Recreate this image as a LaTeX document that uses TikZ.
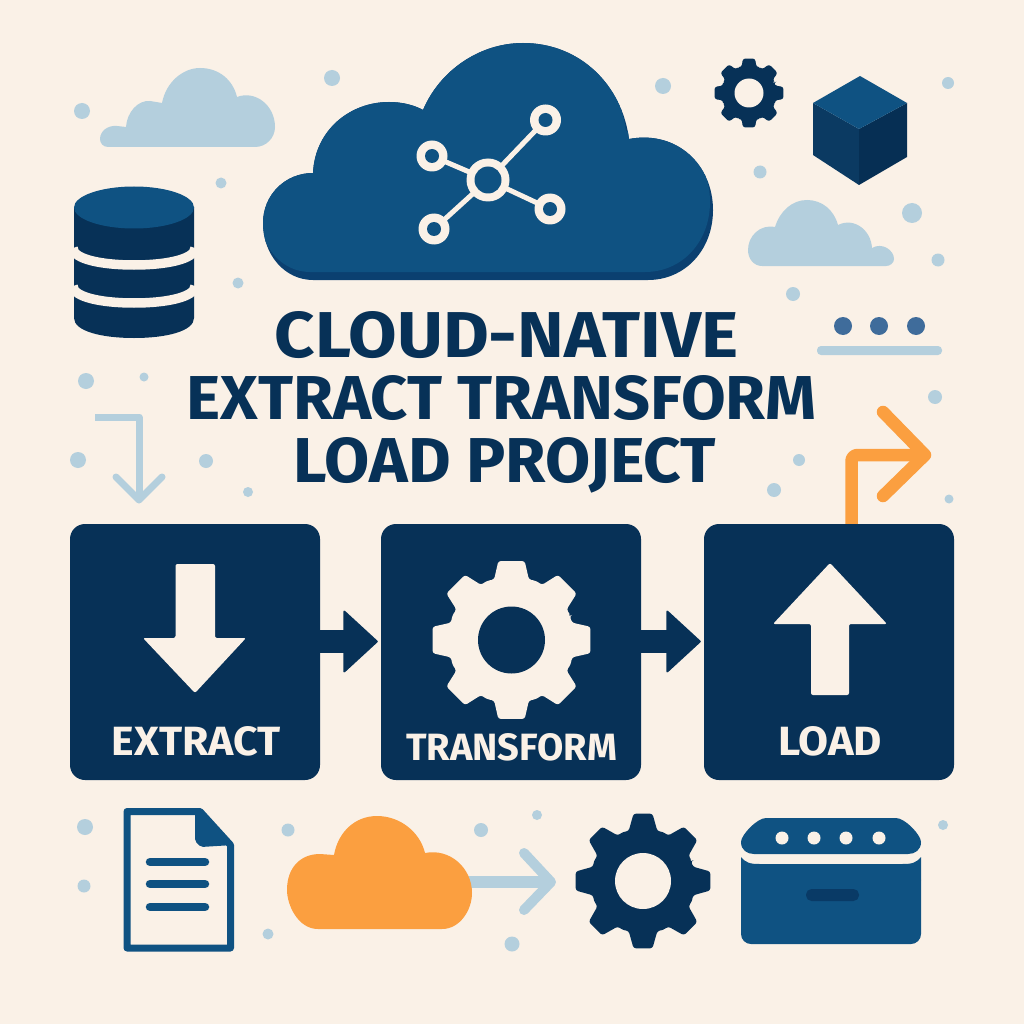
\documentclass[tikz,border=0pt]{standalone}
\usepackage{graphicx}
\usepackage{fontspec}
\setmainfont{Fira Sans}
\usetikzlibrary{arrows.meta}
\definecolor{cbg}{HTML}{FAF1E7}
\definecolor{cmid}{HTML}{0F5282}
\definecolor{cshade}{HTML}{0B4070}
\definecolor{cdark}{HTML}{073157}
\definecolor{ccubeleft}{HTML}{0B3A62}
\definecolor{ccuberight}{HTML}{062F54}
\definecolor{clight}{HTML}{B4CFDD}
\definecolor{corange}{HTML}{FB9F40}
\definecolor{cdots}{HTML}{3F6C9B}
\newcommand\fitted[3]{\resizebox{#1pt}{#2pt}{\bfseries #3}}
\tikzset{
  stagebox/.style={fill=cdark,rounded corners=15pt,inner sep=0pt,minimum height=256pt},
  titletext/.style={text=cdark,anchor=base,inner sep=0pt},
  stagetext/.style={text=cbg,anchor=base,inner sep=0pt},
  linkarrow/.style={draw=cdark,line width=23pt,-{Triangle[length=35pt,width=64pt,line width=2pt,round]},shorten >=3pt},
  softarrow/.style={draw=clight,line cap=round,line join=round},
  hotarrow/.style={draw=corange,line width=12.5pt,line join=round,line cap=round},
  ring/.style={fill=cbg},
}
% cx cy outer root hole tipangle baseangle colour
\newcommand\gearicon[8]{%
  \begin{scope}[shift={(#1,#2)}]
    \fill[#8,rounded corners=2.5pt] (-22.5:#4)
      \foreach \a in {0,45,...,315}{
        -- ({\a-#7}:#4) -- ({\a-#6}:#3) -- ({\a+#6}:#3) -- ({\a+#7}:#4) -- ({\a+22.5}:#4+1)
      } -- cycle;
  \end{scope}}
\def\maincloud{(313,280) .. controls (285,280) and (263,255) .. (263,223)
  .. controls (263,195) and (285,173) .. (313,173)
  .. controls (315,130) and (350,102) .. (389,102)
  .. controls (402,102) and (414,105) .. (423,110)
  .. controls (440,70) and (480,43) .. (523,43)
  .. controls (580,43) and (622,85) .. (629,139)
  .. controls (677,130) and (713,165) .. (713,210)
  .. controls (713,250) and (685,280) .. (648,280) -- cycle}
\begin{document}
\begin{tikzpicture}[x=1pt,y=-1pt]
\useasboundingbox (0,0) rectangle (1024,1024);
\fill[cbg] (0,0) rectangle (1024,1024);

% scattered dots
\foreach \x/\y/\r in {82/111/8,332/78/8,663/86/8,221/183/5.5,238/283/5.5,948/83/6,760/172/6.5,912/213/10,938/260/6.5,793/294/7,
  86/381/8,144/377/4.5,78/460/8,206/461/7,248/492/5,774/490/7,799/460/6,935/397/7,949/499/4.5,
  85/827/8,84/886/6.5,288/830/6.5,268/934/5.5,481/830/7,537/815/5,512/944/7.5,943/825/5}
  \fill[clight] (\x,\y) circle [radius=\r];

% top-left light cloud
\fill[clight] (108,147) .. controls (103,147) and (100,143) .. (100,139)
  .. controls (100,131) and (108,125) .. (117,126) -- (126,127)
  .. controls (127,112) and (138,100) .. (150,101) -- (162,103)
  .. controls (166,82) and (183,68) .. (200,68)
  .. controls (219,68) and (233,80) .. (237,97)
  .. controls (255,90) and (275,105) .. (275,127)
  .. controls (275,138) and (266,147) .. (255,147) -- cycle;

% right light cloud
\fill[clight] (762,266) .. controls (754,266) and (748,259) .. (748,250)
  .. controls (748,236) and (760,224) .. (775,227)
  .. controls (780,211) and (792,200) .. (807,200)
  .. controls (822,200) and (834,210) .. (838,225)
  .. controls (854,217) and (871,230) .. (872,248)
  .. controls (882,242) and (894,250) .. (894,259)
  .. controls (894,263) and (890,266) .. (886,266) -- cycle;

% main cloud
\fill[cshade] \maincloud;
\begin{scope}
  \clip \maincloud;
  \fill[cmid,yshift=8pt,xshift=-3pt] \maincloud;
\end{scope}

% network icon
\coordinate (hub) at (488,180);
\coordinate (sa) at (545.5,120);
\coordinate (sb) at (432,156);
\coordinate (sc) at (550,209);
\coordinate (sd) at (434,229);
\foreach \s in {sa,sb,sc,sd} \draw[cbg,line width=5pt] (hub) -- (\s);
\fill[ring] (hub) circle [radius=21.5];
\fill[cmid] (hub) circle [radius=13.5];
\foreach \s in {sa,sb,sc,sd}{
  \fill[ring] (\s) circle [radius=15.5];
  \fill[cmid] (\s) circle [radius=7];
}

% database
\fill[cdark] (74,207) -- (74,318) .. controls (74,331) and (101,338) .. (134,338)
  .. controls (167,338) and (194,331) .. (194,318) -- (194,207) -- cycle;
\foreach \e in {248,286}
  \draw[cbg,line width=9.5pt] (73,\e) .. controls (73,{\e+11}) and (101,{\e+17}) .. (134,{\e+17})
    .. controls (167,{\e+17}) and (195,{\e+11}) .. (195,\e);
\fill[cmid] (134,207.5) ellipse [x radius=60,y radius=21];

% small gear top
\gearicon{749}{93}{35}{27}{14.5}{10}{16}{cdark}
\fill[cbg] (749,93) circle [radius=14.5];

% cube
\fill[ccubeleft] (813,103) -- (859,129) -- (859,185) -- (813,155) -- cycle;
\fill[ccuberight] (907,103) -- (859,129) -- (859,185) -- (907,157) -- cycle;
\fill[cmid] (860,76) -- (907,103) -- (859,129) -- (813,103) -- cycle;

% three dots and bar
\foreach \x in {843,879,916} \fill[cdots] (\x,326) circle [radius=9];
\fill[clight,rounded corners=4pt] (817,346) rectangle (942,355);

% title
\node[titletext] (t1) at (506.5,357) {\fitted{463}{46}{CLOUD-NATIVE}};
\node[titletext] (t2) at (501.5,419) {\fitted{630}{44}{EXTRACT TRANSFORM}};
\node[titletext] (t3) at (505,482) {\fitted{422}{45}{LOAD PROJECT}};

% top-left light arrow
\coordinate (la) at (95,417);
\coordinate (lb) at (139,417);
\coordinate (lc) at (139,500);
\draw[softarrow,line width=7pt,line cap=butt] (la) -- (lb) -- (lc);
\draw[softarrow,line width=7pt] (116,477) -- (lc) -- (162,477);

% orange arrow
\coordinate (oa) at (851.5,530);
\coordinate (ob) at (851.5,455);
\coordinate (oc) at (925,455);
\draw[hotarrow,line cap=butt,rounded corners=6pt] (oa) -- (ob) -- (oc);
\draw[hotarrow] (883,412) -- (oc) -- (883,496);

% stage boxes
\node[stagebox,minimum width=250pt] (extract) at (195,652) {};
\node[stagebox,minimum width=260pt] (transform) at (511,652) {};
\node[stagebox,minimum width=250pt] (load) at (829,652) {};

% connectors
\coordinate (e1) at (extract.east |- 0,641.5);
\coordinate (tw) at (transform.west |- 0,641.5);
\coordinate (te) at (transform.east |- 0,641.5);
\coordinate (l1) at (load.west |- 0,641.5);
\draw[linkarrow] (e1) -- (tw);
\draw[linkarrow] (te) -- (l1);

% extract arrow
\fill[cbg,rounded corners=2pt] (175.5,564) -- (215,564) -- (215,638) -- (246,638) -- (195,693) -- (143,638) -- (175.5,638) -- cycle;
\node[stagetext] (lblextract) at (196.5,755) {\fitted{169}{29}{EXTRACT}};

% transform gear
\gearicon{511.5}{640}{80}{63}{33.5}{9.5}{16}{cbg}
\fill[cdark] (511.5,640) circle [radius=33.5];
\node[stagetext] (lbltransform) at (511.5,760) {\fitted{211}{27}{TRANSFORM}};

% load arrow
\fill[cbg,rounded corners=2pt] (830,563) -- (887,624) -- (849,624) -- (849,695) -- (811,695) -- (811,624) -- (773,624) -- cycle;
\node[stagetext] (lblload) at (830,755) {\fitted{104}{29}{LOAD}};

% document
\fill[cmid,rounded corners=2pt] (200,811) -- (233,845) -- (201,847) -- (195,841) -- (195,811) -- cycle;
\draw[cmid,line width=7pt,line join=round] (200,811.5) -- (127,811.5) -- (127,948) -- (230.5,948) -- (230.5,845) -- cycle;
\foreach \y in {862,884,907}
  \draw[cmid,line width=8.5pt,line cap=round] (150,\y) -- (205,\y);

% light arrow bottom
\coordinate (ba) at (450,882);
\coordinate (bb) at (551,882);
\draw[softarrow,line width=12pt,line cap=butt] (ba) -- (bb);
\draw[softarrow,line width=10pt] (524,853) -- (bb) -- (524,910);

% orange cloud
\fill[corange] (318,929) .. controls (298,929) and (287,905) .. (287,890)
  .. controls (287,868) and (300,854) .. (320,854) -- (334,855)
  .. controls (338,832) and (355,816) .. (377,816)
  .. controls (400,816) and (420,832) .. (425,853)
  .. controls (450,848) and (472,868) .. (472,893)
  .. controls (472,910) and (460,929) .. (442,929) -- cycle;

% bottom gear
\gearicon{643}{881}{68}{52}{28}{8}{16}{cdark}
\fill[cbg] (643,881) circle [radius=28];

% storage box
\fill[cmid] (766,818) -- (896,818) .. controls (905,818) and (921,835) .. (921,842)
  .. controls (921,850) and (915,854) .. (908,854) -- (754,854)
  .. controls (747,854) and (741,850) .. (741,842) .. controls (741,835) and (757,818) .. (766,818) -- cycle;
\foreach \x in {782,814,846,879} \fill[cbg] (\x,838) circle [radius=6.5];
\fill[cmid,rounded corners=10pt] (741,870) -- (741,944) -- (921,944) -- (921,870) -- cycle;
\fill[cmid] (741,857) .. controls (746,863) and (750,864) .. (760,864) -- (902,864) .. controls (912,864) and (916,863) .. (921,857) -- (921,880) -- (741,880) -- cycle;
\fill[cshade!60!cdark,rounded corners=5.5pt] (806,889) rectangle (859,901);
\end{tikzpicture}
\end{document}
